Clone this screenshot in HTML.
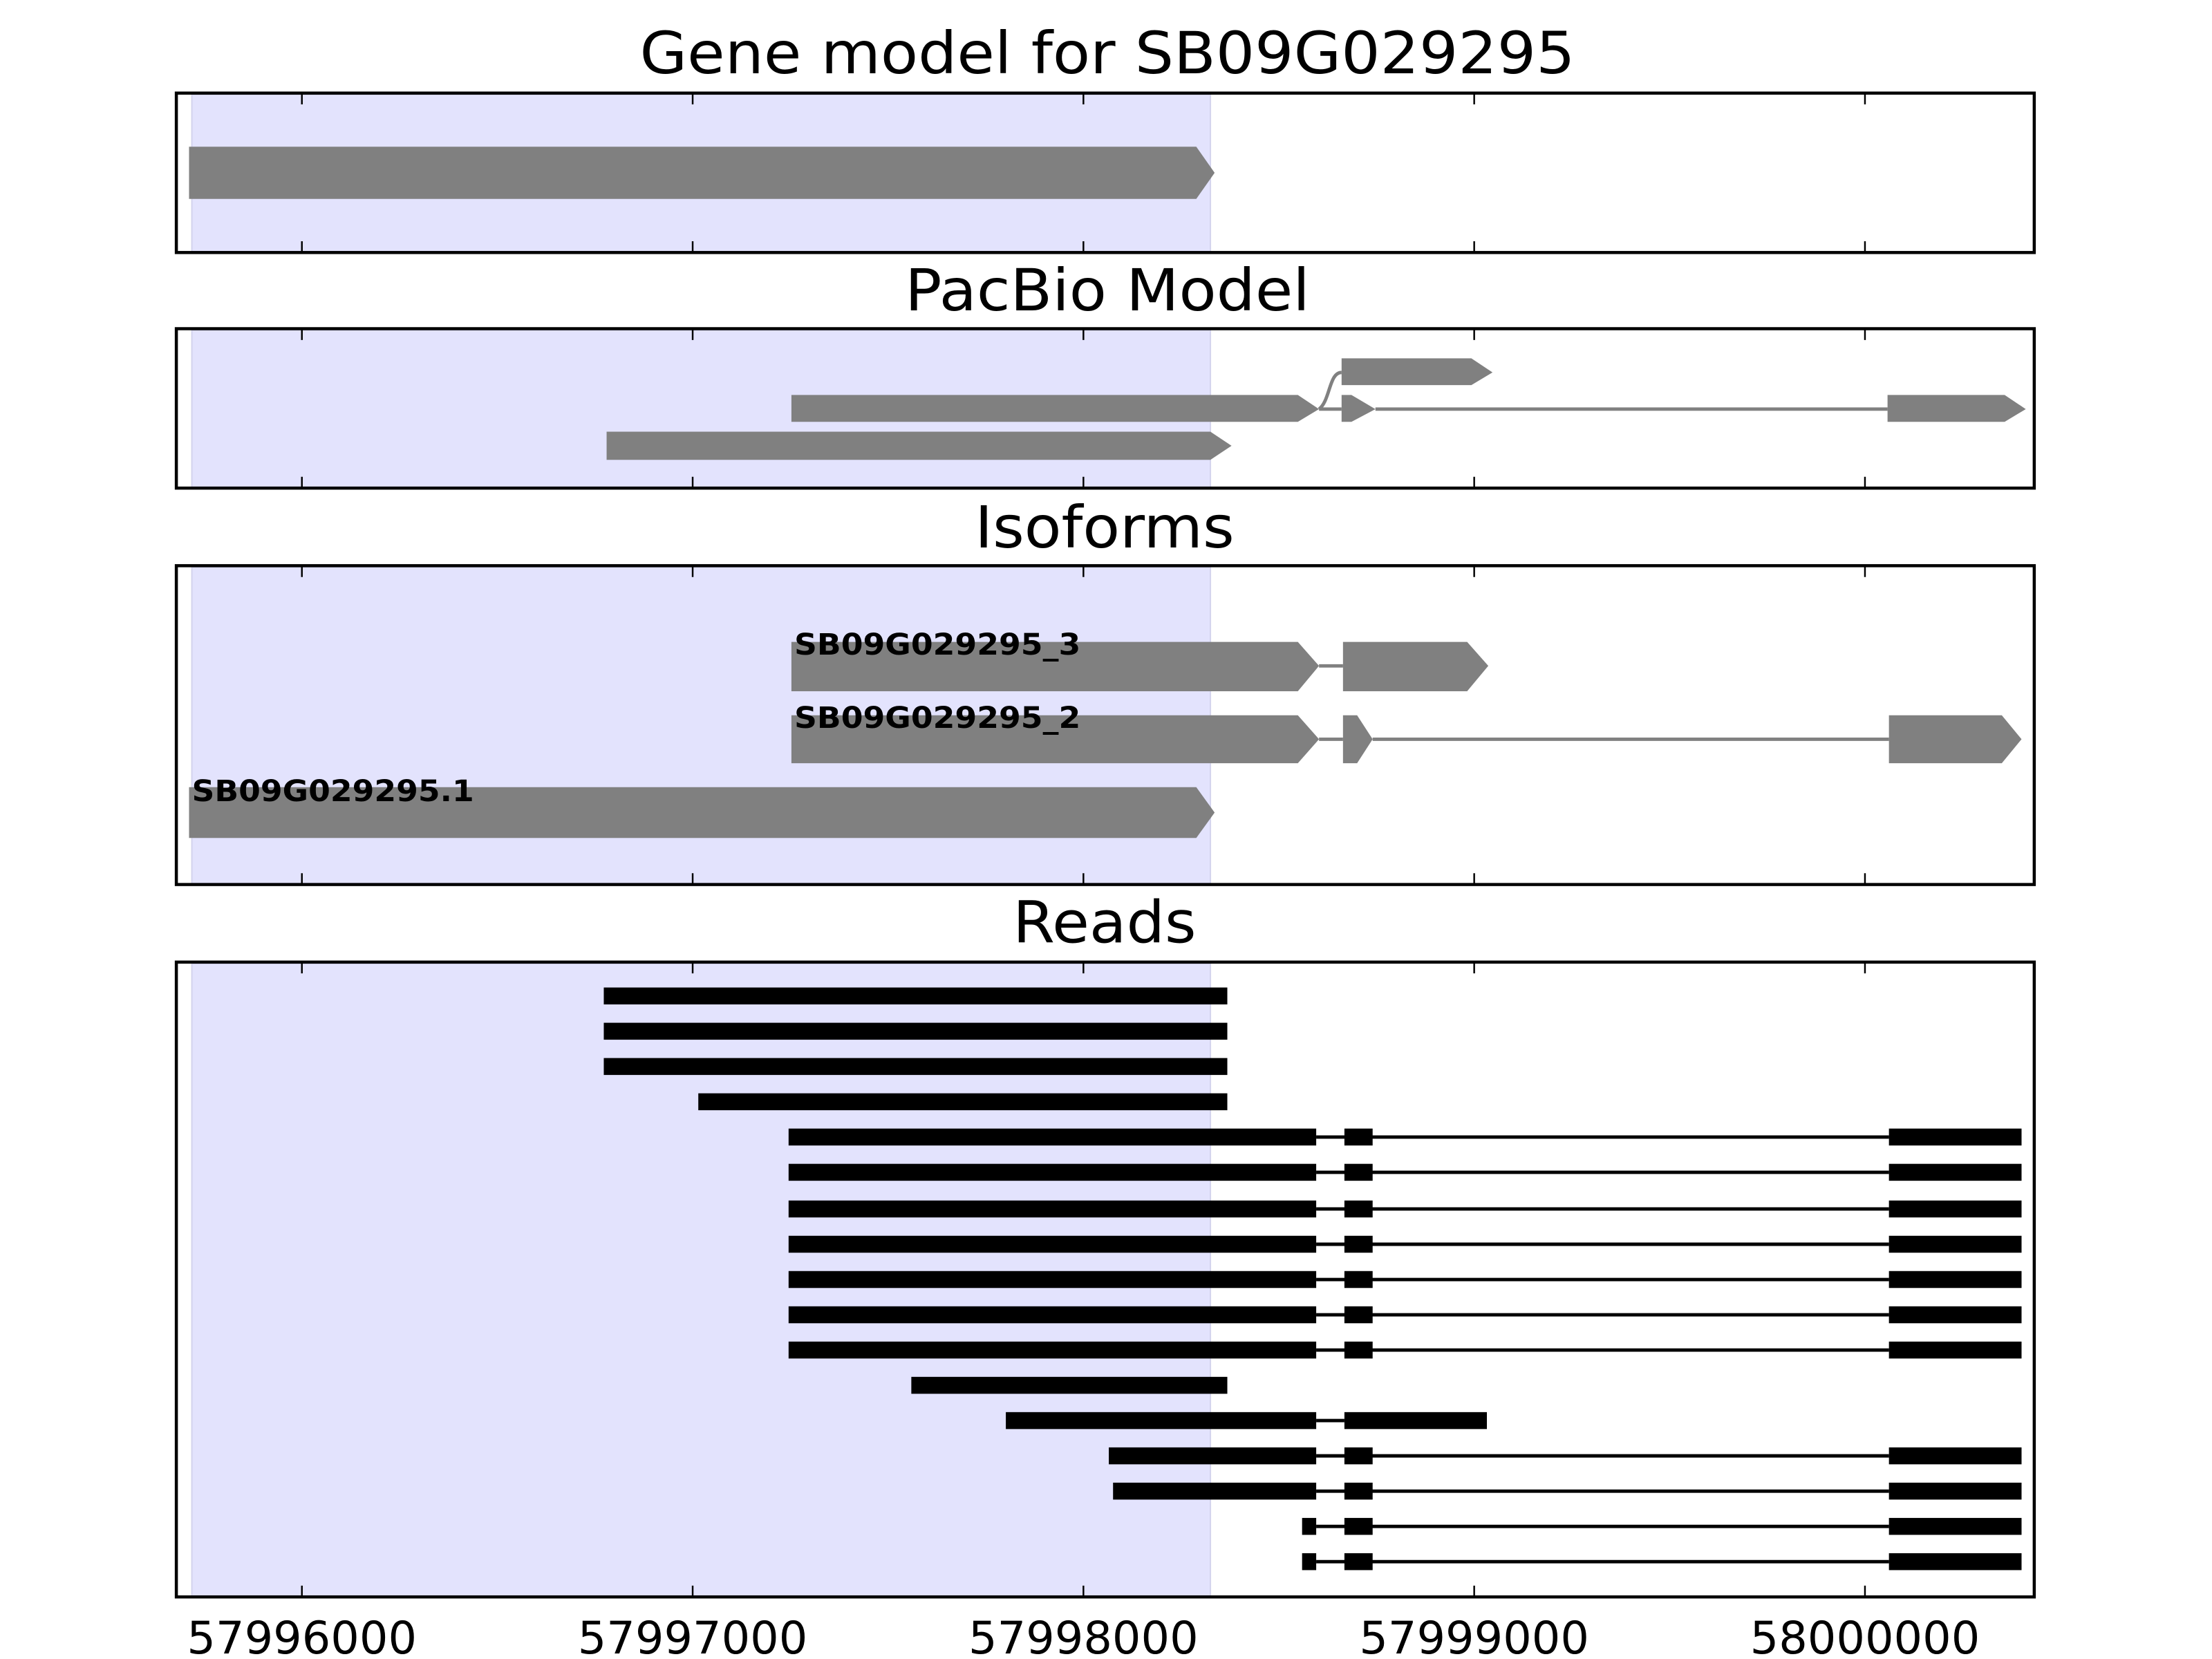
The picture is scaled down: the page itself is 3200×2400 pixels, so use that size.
<!DOCTYPE html>
<html><head><meta charset="utf-8"><style>
html,body{margin:0;padding:0;background:#fff;}
svg{display:block;}
text{font-family:"DejaVu Sans","Liberation Sans",sans-serif;}
</style></head><body>
<svg width="3200" height="2400" viewBox="0 0 1568 1176" xmlns="http://www.w3.org/2000/svg">
<rect width="1568" height="1176" fill="#fff"/>
<!-- Titles -->
<text x="785" y="52" font-size="41" text-anchor="middle" textLength="663" lengthAdjust="spacingAndGlyphs">Gene model for SB09G029295</text>
<text x="785" y="220" font-size="41" text-anchor="middle" textLength="287" lengthAdjust="spacingAndGlyphs">PacBio Model</text>
<text x="783" y="388" font-size="41" text-anchor="middle" textLength="184" lengthAdjust="spacingAndGlyphs">Isoforms</text>
<text x="783" y="668" font-size="41" text-anchor="middle" textLength="130" lengthAdjust="spacingAndGlyphs">Reads</text>

<!-- shading -->
<g fill="#e3e3fd" stroke="#d4d4ee" stroke-width="1">
<rect x="136" y="67" width="722" height="112"/>
<rect x="136" y="234" width="722" height="112"/>
<rect x="136" y="402" width="722" height="225"/>
<rect x="136" y="683" width="722" height="449"/>
</g>

<!-- Panel 1 -->
<g fill="#808080">
<polygon points="134,104 848,104 861,122.5 848,141 134,141"/>
</g>

<!-- Panel 2 -->
<g fill="#808080">
<polygon points="951,254 1043,254 1058,264 1043,273 951,273"/>
<polygon points="561,280 920,280 935,290 920,299 561,299"/>
<polygon points="951,280 958,280 975,290 958,299 951,299"/>
<polygon points="1338,280 1421,280 1436,290 1421,299 1338,299"/>
<polygon points="430,306 858,306 873,316 858,326 430,326"/>
</g>
<g stroke="#808080" stroke-width="2.4" fill="none">
<line x1="935" y1="290" x2="951" y2="290"/>
<line x1="975" y1="290" x2="1338" y2="290"/>
<path d="M935,290 C943,284 942,264 951,264"/>
</g>

<!-- Panel 3 -->
<g stroke="#808080" stroke-width="2.4">
<line x1="935" y1="472" x2="952" y2="472"/>
<line x1="935" y1="524" x2="952" y2="524"/>
<line x1="973" y1="524" x2="1339" y2="524"/>
</g>
<g fill="#808080">
<polygon points="561,455 920,455 935,472 920,490 561,490"/>
<polygon points="952,455 1040,455 1055,472 1040,490 952,490"/>
<polygon points="561,507 920,507 935,524 920,541 561,541"/>
<polygon points="952,507 962,507 973,524 962,541 952,541"/>
<polygon points="1339,507 1419,507 1433,524 1419,541 1339,541"/>
<polygon points="134,558 848,558 861,576 848,594 134,594"/>
</g>
<g font-size="21" font-weight="bold" fill="#000">
<text x="563" y="464" textLength="203" lengthAdjust="spacingAndGlyphs">SB09G029295_3</text>
<text x="563" y="516" textLength="203" lengthAdjust="spacingAndGlyphs">SB09G029295_2</text>
<text x="136" y="568" textLength="200" lengthAdjust="spacingAndGlyphs">SB09G029295.1</text>
</g>

<!-- Panel 4 reads -->
<g fill="#000">
<rect x="428" y="700" width="442" height="12"/>
<rect x="428" y="725" width="442" height="12"/>
<rect x="428" y="750" width="442" height="12"/>
<rect x="495" y="775" width="375" height="12"/>
<rect x="646" y="976" width="224" height="12"/>
<rect x="713" y="1001" width="220" height="12"/>
<rect x="953" y="1001" width="101" height="12"/>
</g>
<g id="r5">
<line x1="933" y1="806" x2="1339" y2="806" stroke="#000" stroke-width="2.4"/>
<rect x="559" y="800" width="374" height="12" fill="#000"/>
<rect x="953" y="800" width="20" height="12" fill="#000"/>
<rect x="1339" y="800" width="94" height="12" fill="#000"/>
</g>
<use href="#r5" y="25"/>
<use href="#r5" y="51"/>
<use href="#r5" y="76"/>
<use href="#r5" y="101"/>
<use href="#r5" y="126"/>
<use href="#r5" y="151"/>
<line x1="933" y1="1007" x2="953" y2="1007" stroke="#000" stroke-width="2.4"/>
<g>
<line x1="933" y1="1032" x2="1339" y2="1032" stroke="#000" stroke-width="2.4"/>
<line x1="933" y1="1057" x2="1339" y2="1057" stroke="#000" stroke-width="2.4"/>
<line x1="933" y1="1082" x2="1339" y2="1082" stroke="#000" stroke-width="2.4"/>
<line x1="933" y1="1107" x2="1339" y2="1107" stroke="#000" stroke-width="2.4"/>
<g fill="#000">
<rect x="786" y="1026" width="147" height="12"/>
<rect x="953" y="1026" width="20" height="12"/>
<rect x="1339" y="1026" width="94" height="12"/>
<rect x="789" y="1051" width="144" height="12"/>
<rect x="953" y="1051" width="20" height="12"/>
<rect x="1339" y="1051" width="94" height="12"/>
<rect x="923" y="1076" width="10" height="12"/>
<rect x="953" y="1076" width="20" height="12"/>
<rect x="1339" y="1076" width="94" height="12"/>
<rect x="923" y="1101" width="10" height="12"/>
<rect x="953" y="1101" width="20" height="12"/>
<rect x="1339" y="1101" width="94" height="12"/>
</g>
</g>

<!-- Axes frames -->
<g fill="none" stroke="#000" stroke-width="2.2">
<rect x="125" y="66" width="1317" height="113"/>
<rect x="125" y="233" width="1317" height="113"/>
<rect x="125" y="401" width="1317" height="226"/>
<rect x="125" y="682" width="1317" height="450"/>
</g>
<!-- ticks -->
<g stroke="#000" stroke-width="1.2">
<path d="M214,66v8M491,66v8M768,66v8M1045,66v8M1322,66v8 M214,179v-8M491,179v-8M768,179v-8M1045,179v-8M1322,179v-8"/>
<path d="M214,233v8M491,233v8M768,233v8M1045,233v8M1322,233v8 M214,346v-8M491,346v-8M768,346v-8M1045,346v-8M1322,346v-8"/>
<path d="M214,401v8M491,401v8M768,401v8M1045,401v8M1322,401v8 M214,627v-8M491,627v-8M768,627v-8M1045,627v-8M1322,627v-8"/>
<path d="M214,682v8M491,682v8M768,682v8M1045,682v8M1322,682v8 M214,1132v-8M491,1132v-8M768,1132v-8M1045,1132v-8M1322,1132v-8"/>
</g>
<g font-size="32" text-anchor="middle">
<text x="214" y="1172" textLength="163" lengthAdjust="spacingAndGlyphs">57996000</text>
<text x="491" y="1172" textLength="163" lengthAdjust="spacingAndGlyphs">57997000</text>
<text x="768" y="1172" textLength="163" lengthAdjust="spacingAndGlyphs">57998000</text>
<text x="1045" y="1172" textLength="163" lengthAdjust="spacingAndGlyphs">57999000</text>
<text x="1322" y="1172" textLength="163" lengthAdjust="spacingAndGlyphs">58000000</text>
</g>
</svg>
</body></html>
